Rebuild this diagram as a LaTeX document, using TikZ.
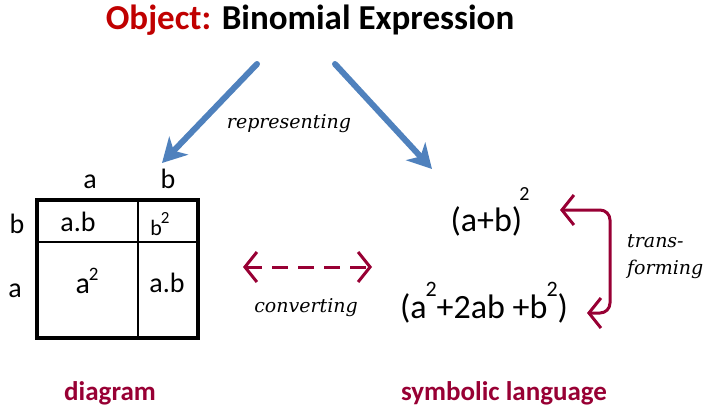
\documentclass[tikz,border=0pt]{standalone}
\usepackage{fontspec}
\setmainfont{Carlito}
\newfontfamily\verbfont{DejaVu Serif}
\usetikzlibrary{arrows.meta,positioning}
\definecolor{objred}{RGB}{192,0,0}
\definecolor{wine}{RGB}{152,0,52}
\definecolor{steel}{RGB}{79,129,189}
\newcommand{\pw}[2]{\raisebox{#1}{\fontsize{#2}{#2}\selectfont 2}}

\begin{document}
\begin{tikzpicture}[
    x=1pt,y=-1pt,
    >=Stealth,
    every node/.style={font=\fontsize{28}{30}\selectfont, inner sep=0pt},
    verb/.style={font=\fontsize{19}{27}\selectfont\verbfont\itshape},
    lbl/.style={font=\fontsize{27}{29}\selectfont\bfseries, text=wine, anchor=base},
    expr/.style={font=\fontsize{34}{36}\selectfont, anchor=base},
    rep/.style={-{Stealth[length=24,width=26,inset=7]}, line width=6pt, steel, line cap=round},
    conv/.style={{Straight Barb[length=12,width=30]}-{Straight Barb[length=12,width=30]}, line width=3pt, wine}
]
\useasboundingbox (0,0) rectangle (709,410);

% object
\node[font=\fontsize{35}{37}\selectfont\bfseries, anchor=base] (obj) at (310,29) {\textcolor{objred}{Object:} Binomial Expression};

% representing arrows
\coordinate (repL0) at (257,64);
\coordinate (repL1) at (162,163);
\coordinate (repR0) at (335,64);
\coordinate (repR1) at (432,169);
\draw[rep] (repL0) -- (repL1);
\draw[rep] (repR0) -- (repR1);
\node[verb] (repr) at (289,124) {representing};

% grid
\draw[line width=3.4pt] (37,200) rectangle (198,338);
\draw[line width=1.4pt] (37,242) -- (198,242);
\draw[line width=1.4pt] (138,200) -- (138,338);

% row/column labels
\node[anchor=base] (ca) at (90,188) {a};
\node[anchor=base] (cb) at (168,188) {b};
\node[anchor=base] (rb) at (17,233) {b};
\node[anchor=base] (ra) at (15,297) {a};

% cells
\node[anchor=base] (ab1) at (78,231) {a.b};
\node[anchor=base, font=\fontsize{22}{24}\selectfont] (bb) at (160,235) {b\kern-1pt\pw{12pt}{17}};
\node[anchor=base, font=\fontsize{30}{32}\selectfont] (aa) at (87,293) {a\kern-1pt\pw{13pt}{19}};
\node[anchor=base] (ab2) at (167,292) {a.b};

% converting
\coordinate (convL) at (243,267);
\coordinate (convR) at (372,267);
\draw[conv, dash pattern=on 16pt off 10pt] (convL) -- (convR);
\node[verb] (conv) at (306,308) {converting};

% symbolic language
\node[expr] (sq) at (490,231) {(a+b)\kern-3pt\pw{31pt}{20}};
\node[expr] (ex) at (484,318) {(a\kern-1pt\pw{22pt}{22}+2ab +b\kern-1pt\pw{22pt}{22})};

% transforming
\coordinate (trT) at (560,210);
\coordinate (trB) at (587,313);
\draw[conv, rounded corners=10pt] (trT) -- (610,210) -- (610,313) -- (trB);
\node[verb, align=left, anchor=west] (tr) at (627,257) {trans-\\ forming};

% names
\node[lbl] (dia) at (110,400) {diagram};
\node[lbl] (sym) at (504,400) {symbolic language};

\end{tikzpicture}
\end{document}
